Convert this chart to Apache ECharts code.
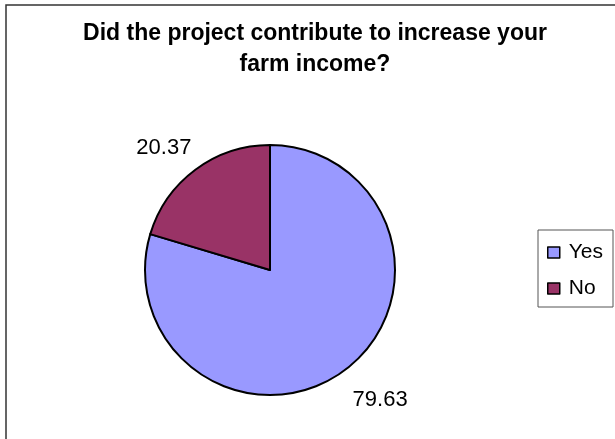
<!DOCTYPE html>
<html>
<head>
<meta charset="utf-8">
<style>
  html, body { margin: 0; padding: 0; background: #ffffff; }
  #chart { width: 615px; height: 439px; }
</style>
<script src="https://cdn.jsdelivr.net/npm/echarts@6/dist/echarts.min.js"></script>
</head>
<body>
<div id="chart"></div>
<script>
// Survey answers (percent of respondents)
const categories = ['Yes', 'No'];
const shares = [79.63, 20.37];
const sliceColors = ['#9999FF', '#993366'];
const titleText = 'Did the project contribute to increase your\nfarm income?';

const chart = echarts.init(document.getElementById('chart'), null, { renderer: 'canvas' });

// nudges for the two value labels, relative to the end of the hidden label line
const labelNudge = [[-9, 14], [13, -6]];

chart.setOption({
  animation: false,
  backgroundColor: '#ffffff',
  title: {
    text: titleText,
    left: 310,
    top: 13,
    textAlign: 'center',
    textStyle: {
      fontFamily: 'Liberation Sans, Arial, sans-serif',
      fontWeight: 'bold',
      fontSize: 23,
      lineHeight: 31,
      color: '#000000'
    }
  },
  legend: {
    orient: 'vertical',
    left: 547,
    top: 242,
    padding: 0,
    itemWidth: 12,
    itemHeight: 11,
    itemGap: 15,
    icon: 'rect',
    data: categories,
    textStyle: {
      fontFamily: 'Liberation Sans, Arial, sans-serif',
      fontSize: 21,
      color: '#000000',
      padding: [0, 0, 0, 4]
    },
    itemStyle: { borderColor: '#000000', borderWidth: 1.5 }
  },
  graphic: [
    {
      type: 'rect',
      shape: { x: 6, y: 5, width: 640, height: 460 },
      style: { fill: 'none', stroke: '#333333', lineWidth: 1.5 },
      silent: true,
      z: -1
    },
    {
      type: 'rect',
      shape: { x: 538, y: 230, width: 75, height: 77 },
      style: { fill: 'none', stroke: '#555555', lineWidth: 1 },
      silent: true,
      z: -1
    }
  ],
  series: [{
    type: 'pie',
    center: [270, 270],
    radius: 125,
    startAngle: 90,
    clockwise: true,
    avoidLabelOverlap: false,
    data: categories.map((name, i) => ({
      name: name,
      value: shares[i],
      itemStyle: { color: sliceColors[i] }
    })),
    itemStyle: { borderColor: '#000000', borderWidth: 2 },
    label: {
      show: true,
      position: 'outside',
      formatter: (p) => p.value.toFixed(2),
      fontFamily: 'Liberation Sans, Arial, sans-serif',
      fontSize: 22,
      color: '#000000'
    },
    labelLine: { show: false, length: 20, length2: 0 },
    labelLayout: (params) => {
      const n = labelNudge[params.dataIndex];
      const r = params.labelRect;
      return {
        x: r.x + r.width / 2 + n[0],
        y: r.y + r.height / 2 + n[1],
        align: 'center',
        verticalAlign: 'middle'
      };
    },
    emphasis: { disabled: true }
  }]
});
</script>
</body>
</html>
